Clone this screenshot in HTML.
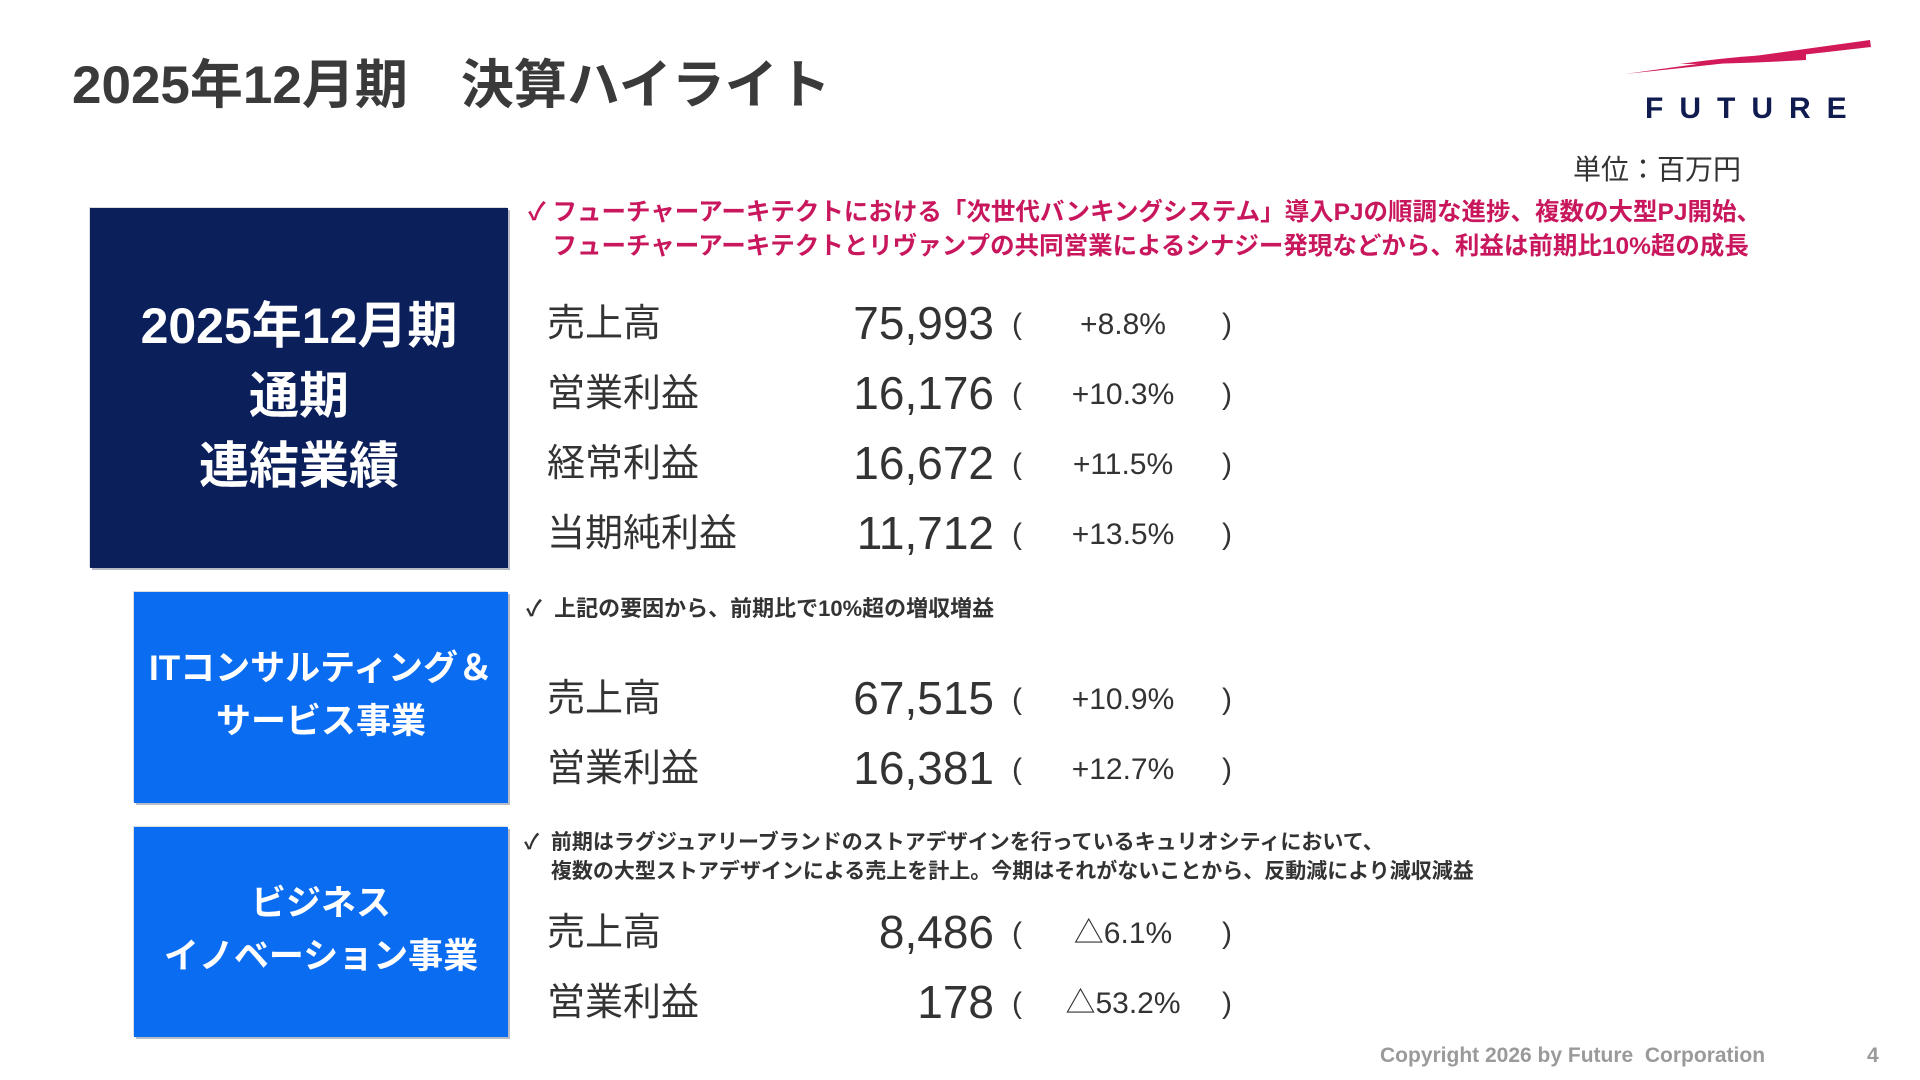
<!DOCTYPE html>
<html lang="ja"><head><meta charset="utf-8"><style>
body{margin:0;width:1920px;height:1080px;background:#fff;position:relative;overflow:hidden;font-family:"Liberation Sans","Noto Sans CJK JP",sans-serif;}
.a{position:absolute;white-space:nowrap;}
.box{position:absolute;box-shadow:2px 2px 0 #b8bcc4, -1px -1px 0 #d8dbe0;color:#fff;font-weight:bold;text-align:center;}
.lbl{position:absolute;left:547px;font-size:38px;color:#333;line-height:1;}
.num{position:absolute;right:926px;font-size:46px;color:#333;line-height:1;}
.po{position:absolute;left:1012px;font-size:30px;color:#333;line-height:1;}
.pc{position:absolute;left:1222px;font-size:30px;color:#333;line-height:1;}
.pct{position:absolute;left:1060px;width:126px;text-align:center;font-size:30px;color:#333;line-height:1;}
.chk{position:absolute;font-size:22px;font-weight:bold;color:#333;line-height:29px;}
</style></head><body>
<div class="a" style="left:72px;top:43px;font-size:53px;font-weight:bold;color:#3a3a3a;">2025年12月期　決算ハイライト</div>

<svg style="position:absolute;left:1620px;top:34px" width="260" height="90">
<path d="M5 40 Q120 24 250 6 L251 13 Q130 27 5 40Z" fill="#d2195a"/>
<path d="M60 30 Q130 20 186 20 L186 26 Q120 30 60 30Z" fill="#d2195a"/>
<text x="25" y="84" font-family="Liberation Sans" font-weight="bold" font-size="30" fill="#101c50" letter-spacing="16">FUTURE</text>
</svg>

<div class="a" style="left:1573px;top:148px;font-size:28px;color:#333;">単位：百万円</div>

<div class="box" style="left:90px;top:208px;width:418px;height:360px;background:#0b1f5b;">
<div style="position:absolute;left:0;right:0;top:83px;font-size:50px;line-height:70px;">2025年12月期<br>通期<br>連結業績</div></div>

<div class="chk" style="left:528px;top:196px;color:#c8175d;font-size:24.5px;line-height:34px;">✓ フューチャーアーキテクトにおける「次世代バンキングシステム」導入PJの順調な進捗、複数の大型PJ開始、<br>　フューチャーアーキテクトとリヴァンプの共同営業によるシナジー発現などから、利益は前期比10%超の成長</div>

<div class="lbl" style="top:305px">売上高</div><div class="num" style="top:300px">75,993</div><div class="po" style="top:310px">(</div><div class="pct" style="top:310px">+8.8%</div><div class="pc" style="top:310px">)</div>
<div class="lbl" style="top:375px">営業利益</div><div class="num" style="top:370px">16,176</div><div class="po" style="top:380px">(</div><div class="pct" style="top:380px">+10.3%</div><div class="pc" style="top:380px">)</div>
<div class="lbl" style="top:445px">経常利益</div><div class="num" style="top:440px">16,672</div><div class="po" style="top:450px">(</div><div class="pct" style="top:450px">+11.5%</div><div class="pc" style="top:450px">)</div>
<div class="lbl" style="top:515px">当期純利益</div><div class="num" style="top:510px">11,712</div><div class="po" style="top:520px">(</div><div class="pct" style="top:520px">+13.5%</div><div class="pc" style="top:520px">)</div>

<div class="box" style="left:134px;top:592px;width:374px;height:211px;background:#0a6cf0;">
<div style="position:absolute;left:0;right:0;top:50px;font-size:35px;line-height:53px;">ITコンサルティング＆<br>サービス事業</div></div>
<div class="chk" style="left:526px;top:594px;">✓&nbsp; 上記の要因から、前期比で10%超の増収増益</div>
<div class="lbl" style="top:680px">売上高</div><div class="num" style="top:675px">67,515</div><div class="po" style="top:685px">(</div><div class="pct" style="top:685px">+10.9%</div><div class="pc" style="top:685px">)</div>
<div class="lbl" style="top:750px">営業利益</div><div class="num" style="top:745px">16,381</div><div class="po" style="top:755px">(</div><div class="pct" style="top:755px">+12.7%</div><div class="pc" style="top:755px">)</div>

<div class="box" style="left:134px;top:827px;width:374px;height:210px;background:#0a6cf0;">
<div style="position:absolute;left:0;right:0;top:50px;font-size:35px;line-height:53px;">ビジネス<br>イノベーション事業</div></div>
<div class="chk" style="left:524px;top:828px;font-size:21px;">✓&nbsp; 前期はラグジュアリーブランドのストアデザインを行っているキュリオシティにおいて、<br>　 複数の大型ストアデザインによる売上を計上。今期はそれがないことから、反動減により減収減益</div>
<div class="lbl" style="top:914px">売上高</div><div class="num" style="top:909px">8,486</div><div class="po" style="top:919px">(</div><div class="pct" style="top:919px">△6.1%</div><div class="pc" style="top:919px">)</div>
<div class="lbl" style="top:984px">営業利益</div><div class="num" style="top:979px">178</div><div class="po" style="top:989px">(</div><div class="pct" style="top:989px">△53.2%</div><div class="pc" style="top:989px">)</div>

<div class="a" style="left:1380px;top:1044px;font-size:21px;font-weight:bold;color:#9a9a9a;">Copyright 2026 by Future&nbsp; Corporation</div>
<div class="a" style="left:1867px;top:1044px;font-size:21px;font-weight:bold;color:#9a9a9a;">4</div>
</body></html>
